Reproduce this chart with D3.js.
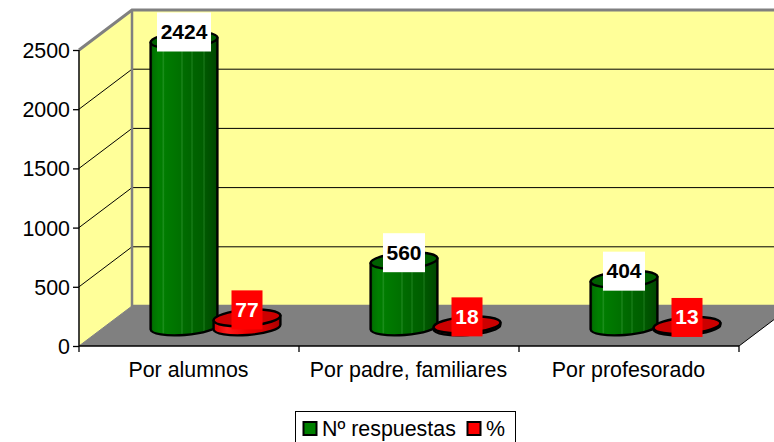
<!DOCTYPE html>
<html><head><meta charset="utf-8">
<script src="https://cdn.jsdelivr.net/npm/d3@7/dist/d3.min.js"></script>
<style>html,body{margin:0;padding:0;background:#fff}svg{display:block}text{font-family:"Liberation Sans",Arial,sans-serif}</style>
</head><body><svg id="c" width="774" height="442"></svg>
<script>
const categories = ["Por alumnos","Por padre, familiares","Por profesorado"];
const respuestas = [2424,560,404];
const porcentaje = [77,18,13];
const yTicks = [0,500,1000,1500,2000,2500];
const seriesNames = ["Nº respuestas","%"];

const W=774,H=442;
const svg=d3.select("#c").attr("viewBox",`0 0 ${W} ${H}`);
const dx=53,dy=-40, baseY=327, fs=21.4, fsB=21;
const x=d3.scaleBand().domain(categories).range([79,739]);
const y=d3.scaleLinear().domain([0,2500]).range([346,50]);
const line=d3.line();

const clip=svg.append("defs");
clip.append("clipPath").attr("id","cl").append("rect").attr("width",W).attr("height",H);
function cyl(id,stops){
  const g=clip.append("linearGradient").attr("id",id);
  stops.forEach(s=>g.append("stop").attr("offset",s[0]).attr("stop-color",s[1]));
}
cyl("gG",[[0,"#005000"],[.04,"#007400"],[.12,"#008000"],[.17,"#007c00"],[.19,"#1e901e"],[.21,"#007c00"],[.45,"#007000"],[.47,"#1e861e"],[.49,"#006c00"],[.6,"#006600"],[.62,"#1a7e1a"],[.64,"#006400"],[.78,"#005e00"],[.8,"#187618"],[.82,"#005800"],[1,"#004600"]]);
cyl("rG",[[0,"#d80000"],[.2,"#ff1a1a"],[.5,"#f00000"],[.8,"#d00000"],[1,"#a80000"]]);

const plot=svg.append("g").attr("clip-path","url(#cl)");
const x0=x.range()[0],x1=x.range()[1];
plot.append("path").attr("fill","#ffff99").attr("stroke","#808080").attr("stroke-width",1)
 .attr("d",line([[x0,y(2500)],[x0+dx,y(2500)+dy],[x0+dx,y(0)+dy],[x0,y(0)]])+"Z");
plot.append("path").attr("fill","#ffff99")
 .attr("d",line([[x0+dx,y(2500)+dy],[x1+dx,y(2500)+dy],[x1+dx,y(0)+dy],[x0+dx,y(0)+dy]])+"Z");
yTicks.slice(1,5).forEach(t=>{
  plot.append("path").attr("fill","none").attr("stroke","#000").attr("stroke-width",1)
   .attr("d",line([[x0,y(t)],[x0+dx,y(t)+dy],[x1+dx,y(t)+dy]]));
});
plot.append("path").attr("fill","#808080")
 .attr("d",line([[x0,y(0)],[x0+dx,y(0)+dy],[x1+dx,y(0)+dy],[x1,y(0)]])+"Z");
plot.append("path").attr("fill","none").attr("stroke","#808080").attr("stroke-width",3)
 .attr("d",line([[x0,y(2500)],[x0+dx,y(2500)+dy],[x1+dx,y(2500)+dy]]));
plot.append("path").attr("fill","none").attr("stroke","#808080").attr("stroke-width",2.5)
 .attr("d",line([[x0+dx,y(2500)+dy],[x0+dx,y(0)+dy],[x1+dx,y(0)+dy]]));
plot.append("path").attr("fill","none").attr("stroke","#000").attr("stroke-width",1)
 .attr("d",line([[x1,y(0)],[x1+dx,y(0)+dy]]));

svg.append("path").attr("fill","none").attr("stroke","#000").attr("stroke-width",1.3)
 .attr("d",line([[x0,y(2500)],[x0,y(0)],[x1,y(0)]]));
const yAxis=svg.append("g").attr("transform",`translate(${x0},0)`)
 .call(d3.axisLeft(y).tickValues(yTicks).tickSize(6).tickPadding(3).tickFormat(d3.format("d")));
yAxis.select(".domain").remove();
yAxis.selectAll("line").attr("stroke","#000").attr("stroke-width",1.3);
yAxis.selectAll("text").attr("font-size",fs).attr("fill","#000").attr("font-family","Liberation Sans")
 .attr("x",-9).attr("dy","0.35em");
const edges=[0,1,2].map(i=>x(categories[i])).concat([x1]);
edges.forEach(e=>svg.append("line").attr("x1",e).attr("x2",e).attr("y1",y(0)).attr("y2",y(0)+6).attr("stroke","#000").attr("stroke-width",1.3));
svg.selectAll("text.cat").data(categories).join("text").attr("class","cat")
 .attr("x",d=>x(d)+x.bandwidth()/2-0.5).attr("y",376.5).attr("text-anchor","middle").attr("font-size",fs).attr("fill","#000").text(d=>d);

const rx=33.5,ry=8,rot=-4.3;
const pxh=v=>y(0)-y(v);
function cylinder(g,cx,v,fillSide,fillTop){
  const t=baseY-pxh(v),ox=rx*Math.cos(rot*Math.PI/180),oy=rx*Math.sin(-rot*Math.PI/180);
  g.append("path").attr("fill",fillSide).attr("stroke","#000").attr("stroke-width",2.4).attr("stroke-linejoin","round")
   .attr("d",`M${cx-ox},${t+oy}L${cx-ox},${baseY+oy}A${rx},${ry} ${rot} 0 0 ${cx+ox},${baseY-oy}L${cx+ox},${t-oy}Z`);
  g.append("ellipse").attr("cx",cx).attr("cy",t).attr("rx",rx).attr("ry",ry)
   .attr("transform",`rotate(${rot} ${cx} ${t})`).attr("fill",fillTop).attr("stroke","#000").attr("stroke-width",2.4);
}
const gb=svg.append("g");
categories.forEach((c,i)=>cylinder(gb,x(c)+x.bandwidth()/2-5,respuestas[i],"url(#gG)","#006000"));
categories.forEach((c,i)=>cylinder(gb,x(c)+x.bandwidth()/2+58,porcentaje[i],"url(#rG)","#cc0000"));
function lbl(cx,v,w,txt,bg,fg){
  const t=baseY-pxh(v)-8;
  svg.append("rect").attr("x",cx-w/2).attr("y",t-19.5).attr("width",w).attr("height",39).attr("fill",bg);
  svg.append("text").attr("x",cx).attr("y",t+7).attr("text-anchor","middle").attr("font-size",fsB).attr("font-weight","bold").attr("fill",fg).text(txt);
}
categories.forEach((c,i)=>{
  const base=x(c)+x.bandwidth()/2;
  lbl(base-5,respuestas[i],respuestas[i]>999?54:42,respuestas[i],"#fff","#000");
  lbl(base+58,porcentaje[i],31,porcentaje[i],"#f00","#fff");
});

const leg=svg.append("g");
leg.append("rect").attr("x",295.5).attr("y",411.5).attr("width",220).attr("height",40).attr("fill","#fff").attr("stroke","#000").attr("stroke-width",1);
const lx=[303.5,467.5],tx=[322,486],colors=["#008000","#ff0000"];
seriesNames.forEach((n,i)=>{
  leg.append("rect").attr("x",lx[i]).attr("y",422).attr("width",13).attr("height",13).attr("fill",colors[i]).attr("stroke","#000").attr("stroke-width",2);
  leg.append("text").attr("x",tx[i]).attr("y",436).attr("font-size",fs).attr("fill","#000").text(n);
});
</script></body></html>
